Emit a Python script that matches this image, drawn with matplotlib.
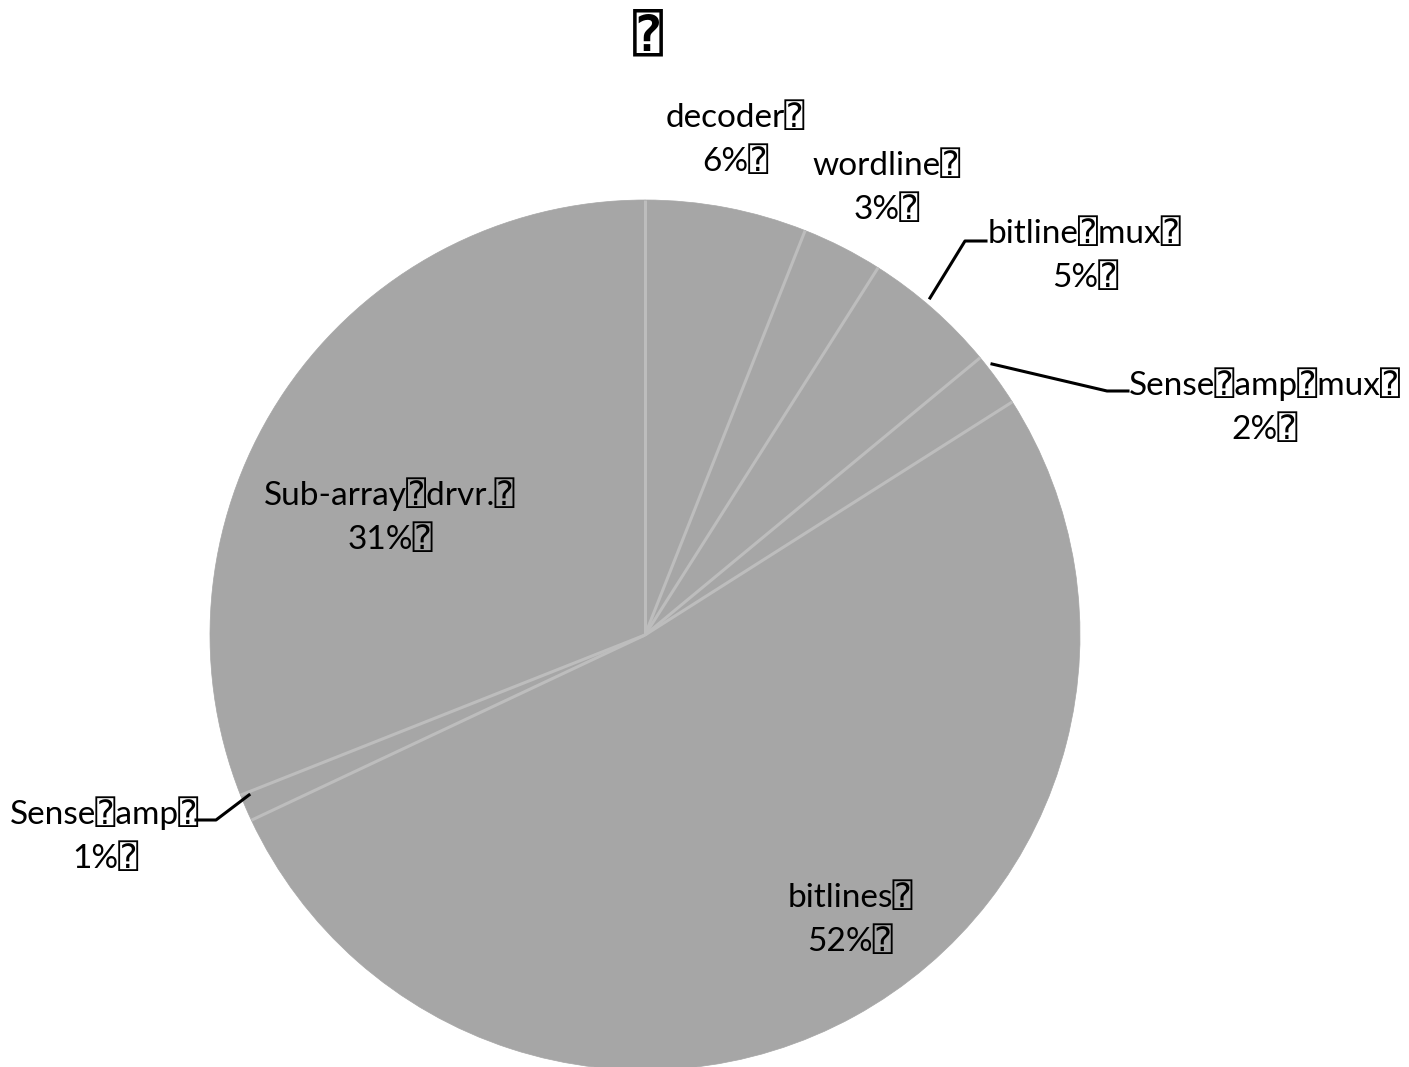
import numpy as np
import matplotlib.pyplot as plt

# Energy breakdown of the memory array
labels = ['decoder', 'wordline', 'bitline\u2370mux', 'Sense\u2370amp\u2370mux',
          'bitlines', 'Sense\u2370amp', 'Sub-array\u2370drvr.']
shares = [6, 3, 5, 2, 52, 1, 31]

FONT = ['Lato', 'DejaVu Sans', 'DejaVu Sans Mono', 'Noto Sans CJK SC']
SLICE = '#a6a6a6'

W, H = 1409, 1067
fig = plt.figure(figsize=(W / 100, H / 100), dpi=100)
fig.patch.set_facecolor('white')

# pie centre and radius in pixels
cx, cy, r = 645, 635, 435
ax = fig.add_axes([(cx - r) / W, (H - cy - r) / H, 2 * r / W, 2 * r / H])
ax.pie(shares, startangle=90, counterclock=False, colors=[SLICE] * len(shares),
       wedgeprops=dict(edgecolor=SLICE, linewidth=0.5))
ax.set_xlim(-1, 1)
ax.set_ylim(-1, 1)
ax.set_aspect('auto')
ax.axis('off')

# light separators between slices
bounds = 90 - 360 * np.cumsum([0] + shares[:-1]) / sum(shares)
for a in np.deg2rad(bounds):
    ax.plot([0, np.cos(a)], [0, np.sin(a)], color='#bdbdbd', lw=2.2,
            solid_capstyle='butt')


def px(x, y):
    """pixel position -> pie data coordinates"""
    return (x - cx) / r, (cy - y) / r


# label anchor points (pixels) for each slice
label_pos = [(735, 140), (887, 188), (1085, 256), (1265, 406),
             (850, 920), (105, 835), (390, 516)]
for name, val, (lx, ly) in zip(labels, shares, label_pos):
    x, y = px(lx, ly)
    ax.text(x, y, f'{name}\u2370\n{val}%\u2370', ha='center', va='center',
            fontsize=24, family=FONT, linespacing=1.55, color='black')

# leader lines for the small slices
leaders = [
    [(930, 298), (965, 241), (986, 241)],
    [(992, 364), (1107, 391), (1128, 391)],
    [(249, 795), (216, 820), (196, 820)],
]
for pts in leaders:
    xs, ys = zip(*[px(x, y) for x, y in pts])
    ax.plot(xs, ys, color='black', lw=2.2, clip_on=False)

fig.text(648 / W, 1 - 35 / H, '\u2370', ha='center', va='center',
         fontsize=36, fontweight='bold', family=FONT)

fig.savefig('out.png', dpi=100, facecolor='white')
